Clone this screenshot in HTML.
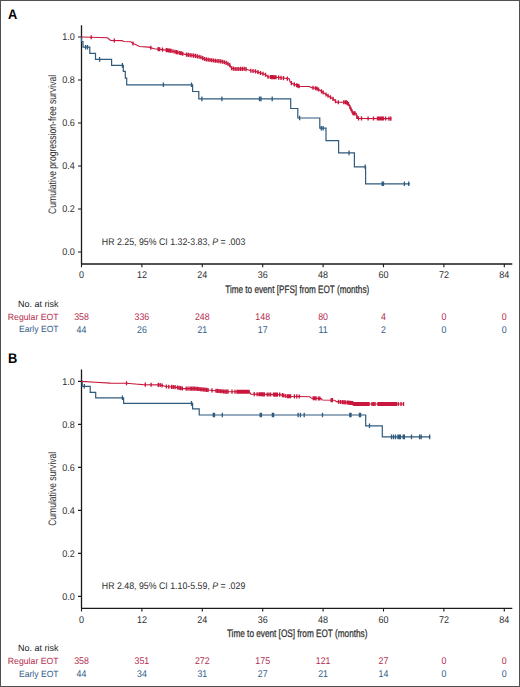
<!DOCTYPE html>
<html><head><meta charset="utf-8"><style>
html,body{margin:0;padding:0;background:#fff;}
svg{display:block;}
text{font-family:"Liberation Sans",sans-serif;text-rendering:geometricPrecision;}
</style></head><body>
<svg width="520" height="687" viewBox="0 0 520 687">
<rect x="0" y="0" width="520" height="687" fill="#fff"/>
<rect x="0.5" y="0.5" width="519" height="686" fill="none" stroke="#505050" stroke-width="1"/>
<text x="8.0" y="18.50" font-size="14" font-weight="bold" fill="#000" textLength="9.3" lengthAdjust="spacingAndGlyphs">A</text>
<path d="M81.5 25.20V264.00M81 264.00H512.3" stroke="#1a1a1a" stroke-width="1.3" fill="none"/>
<path d="M78 37.00H81.5M78 80.00H81.5M78 123.00H81.5M78 166.00H81.5M78 209.00H81.5M78 252.00H81.5" stroke="#1a1a1a" stroke-width="1.1" fill="none"/>
<path d="M81.50 264.00V267.20M141.90 264.00V267.20M202.30 264.00V267.20M262.70 264.00V267.20M323.10 264.00V267.20M383.50 264.00V267.20M443.90 264.00V267.20M504.30 264.00V267.20" stroke="#1a1a1a" stroke-width="1.1" fill="none"/>
<text x="74.8" y="40.25" font-size="9.8" text-anchor="end" fill="#2e2e2e" textLength="12.6" lengthAdjust="spacingAndGlyphs">1.0</text>
<text x="74.8" y="83.25" font-size="9.8" text-anchor="end" fill="#2e2e2e" textLength="12.6" lengthAdjust="spacingAndGlyphs">0.8</text>
<text x="74.8" y="126.25" font-size="9.8" text-anchor="end" fill="#2e2e2e" textLength="12.6" lengthAdjust="spacingAndGlyphs">0.6</text>
<text x="74.8" y="169.25" font-size="9.8" text-anchor="end" fill="#2e2e2e" textLength="12.6" lengthAdjust="spacingAndGlyphs">0.4</text>
<text x="74.8" y="212.25" font-size="9.8" text-anchor="end" fill="#2e2e2e" textLength="12.6" lengthAdjust="spacingAndGlyphs">0.2</text>
<text x="74.8" y="255.25" font-size="9.8" text-anchor="end" fill="#2e2e2e" textLength="12.6" lengthAdjust="spacingAndGlyphs">0.0</text>
<text x="81.50" y="278.30" font-size="9.8" text-anchor="middle" fill="#2e2e2e" textLength="5.01" lengthAdjust="spacingAndGlyphs">0</text>
<text x="141.90" y="278.30" font-size="9.8" text-anchor="middle" fill="#2e2e2e" textLength="10.03" lengthAdjust="spacingAndGlyphs">12</text>
<text x="202.30" y="278.30" font-size="9.8" text-anchor="middle" fill="#2e2e2e" textLength="10.03" lengthAdjust="spacingAndGlyphs">24</text>
<text x="262.70" y="278.30" font-size="9.8" text-anchor="middle" fill="#2e2e2e" textLength="10.03" lengthAdjust="spacingAndGlyphs">36</text>
<text x="323.10" y="278.30" font-size="9.8" text-anchor="middle" fill="#2e2e2e" textLength="10.03" lengthAdjust="spacingAndGlyphs">48</text>
<text x="383.50" y="278.30" font-size="9.8" text-anchor="middle" fill="#2e2e2e" textLength="10.03" lengthAdjust="spacingAndGlyphs">60</text>
<text x="443.90" y="278.30" font-size="9.8" text-anchor="middle" fill="#2e2e2e" textLength="10.03" lengthAdjust="spacingAndGlyphs">72</text>
<text x="504.30" y="278.30" font-size="9.8" text-anchor="middle" fill="#2e2e2e" textLength="10.03" lengthAdjust="spacingAndGlyphs">84</text>
<text x="225.2" y="292.80" font-size="10.8" fill="#2e2e2e" stroke="#2e2e2e" stroke-width="0.25" textLength="144" lengthAdjust="spacingAndGlyphs">Time to event [PFS] from EOT (months)</text>
<text transform="translate(56.3 144.40) rotate(-90)" x="0" y="0" font-size="10.8" text-anchor="middle" fill="#2e2e2e" textLength="139" lengthAdjust="spacingAndGlyphs">Cumulative  progression-free survival</text>
<text x="101.8" y="244.80" font-size="9.6" fill="#2e2e2e" textLength="143.5" lengthAdjust="spacingAndGlyphs">HR 2.25, 95% CI 1.32-3.83, <tspan font-style="italic">P</tspan> = .003</text>
<text x="58.6" y="307.00" font-size="9" text-anchor="end" fill="#222">No. at risk</text>
<text x="58.6" y="319.70" font-size="9" text-anchor="end" fill="#b42c4e" textLength="50.8" lengthAdjust="spacingAndGlyphs">Regular EOT</text>
<text x="58.6" y="332.40" font-size="9" text-anchor="end" fill="#325d88" textLength="39.6" lengthAdjust="spacingAndGlyphs">Early EOT</text>
<text x="81.50" y="319.80" font-size="9.8" text-anchor="middle" fill="#b42c4e" textLength="14.71" lengthAdjust="spacingAndGlyphs">358</text>
<text x="141.90" y="319.80" font-size="9.8" text-anchor="middle" fill="#b42c4e" textLength="14.71" lengthAdjust="spacingAndGlyphs">336</text>
<text x="202.30" y="319.80" font-size="9.8" text-anchor="middle" fill="#b42c4e" textLength="14.71" lengthAdjust="spacingAndGlyphs">248</text>
<text x="262.70" y="319.80" font-size="9.8" text-anchor="middle" fill="#b42c4e" textLength="14.71" lengthAdjust="spacingAndGlyphs">148</text>
<text x="323.10" y="319.80" font-size="9.8" text-anchor="middle" fill="#b42c4e" textLength="9.81" lengthAdjust="spacingAndGlyphs">80</text>
<text x="383.50" y="319.80" font-size="9.8" text-anchor="middle" fill="#b42c4e" textLength="4.90" lengthAdjust="spacingAndGlyphs">4</text>
<text x="443.90" y="319.80" font-size="9.8" text-anchor="middle" fill="#b42c4e" textLength="4.90" lengthAdjust="spacingAndGlyphs">0</text>
<text x="504.30" y="319.80" font-size="9.8" text-anchor="middle" fill="#b42c4e" textLength="4.90" lengthAdjust="spacingAndGlyphs">0</text>
<text x="81.50" y="332.50" font-size="9.8" text-anchor="middle" fill="#325d88" textLength="9.81" lengthAdjust="spacingAndGlyphs">44</text>
<text x="141.90" y="332.50" font-size="9.8" text-anchor="middle" fill="#325d88" textLength="9.81" lengthAdjust="spacingAndGlyphs">26</text>
<text x="202.30" y="332.50" font-size="9.8" text-anchor="middle" fill="#325d88" textLength="9.81" lengthAdjust="spacingAndGlyphs">21</text>
<text x="262.70" y="332.50" font-size="9.8" text-anchor="middle" fill="#325d88" textLength="9.81" lengthAdjust="spacingAndGlyphs">17</text>
<text x="323.10" y="332.50" font-size="9.8" text-anchor="middle" fill="#325d88" textLength="9.15" lengthAdjust="spacingAndGlyphs">11</text>
<text x="383.50" y="332.50" font-size="9.8" text-anchor="middle" fill="#325d88" textLength="4.90" lengthAdjust="spacingAndGlyphs">2</text>
<text x="443.90" y="332.50" font-size="9.8" text-anchor="middle" fill="#325d88" textLength="4.90" lengthAdjust="spacingAndGlyphs">0</text>
<text x="504.30" y="332.50" font-size="9.8" text-anchor="middle" fill="#325d88" textLength="4.90" lengthAdjust="spacingAndGlyphs">0</text>
<polyline points="81.50,37.00 81.50,41.50 83.00,41.50 83.00,47.20 89.80,47.20 89.80,53.30 95.50,53.30 95.50,59.40 111.60,59.40 111.60,65.40 123.30,65.40 123.30,71.30 125.30,71.30 125.30,78.20 126.70,78.20 126.70,84.80 192.60,84.80 192.60,91.50 198.80,91.50 198.80,98.90 290.70,98.90 290.70,108.50 297.80,108.50 297.80,118.00 319.80,118.00 319.80,128.20 326.00,128.20 326.00,140.60 338.60,140.60 338.60,152.90 354.40,152.90 354.40,166.80 365.60,166.80 365.60,183.80 410.00,183.80" fill="none" stroke="#2e5b7e" stroke-width="1.2" stroke-linejoin="miter"/>
<path d="M85.60 44.90v4.6M87.50 44.90v4.6M99.60 57.10v4.6M122.40 63.10v4.6M163.40 82.50v4.6M191.50 82.50v4.6M201.90 96.60v4.6M221.90 96.60v4.6M259.50 96.60v4.6M261.00 96.60v4.6M272.20 96.60v4.6M299.60 115.70v4.6M321.30 125.90v4.6M323.10 125.90v4.6M349.00 150.60v4.6M365.20 164.50v4.6M382.20 181.50v4.6M383.50 181.50v4.6M404.40 181.50v4.6M408.70 181.50v4.6" stroke="#2e5b7e" stroke-width="1.3" fill="none"/>
<polyline points="81.50,37.00 91.00,37.30 107.50,37.80 110.60,40.40 122.00,40.60 123.80,41.50 130.70,41.80 133.00,43.50 135.00,44.20 139.60,46.50 148.80,47.10 154.30,48.70 158.00,49.10 170.00,50.60 180.00,53.00 186.00,54.60 195.00,55.80 200.80,57.20 204.60,59.10 214.20,60.60 221.90,61.50 226.70,63.00 230.10,65.40 231.50,68.30 235.40,69.00 245.00,68.80 250.80,70.70 254.60,71.10 259.40,72.60 265.20,74.50 268.10,76.90 276.00,77.30 289.20,78.80 290.20,82.20 292.10,83.60 295.00,84.60 299.60,86.50 309.20,86.50 311.60,87.60 316.90,88.40 321.70,91.50 326.50,94.80 331.30,97.70 334.60,99.90 336.20,102.20 346.20,102.20 349.20,104.50 350.00,107.20 351.50,110.30 353.10,113.40 356.20,113.40 357.30,118.40 391.30,118.60" fill="none" stroke="#c8163c" stroke-width="1.15" stroke-linejoin="miter"/>
<path d="M91.20 35.26v4.1M114.30 38.41v4.1M133.00 41.45v4.1M150.80 45.63v4.1M158.20 47.08v4.1M159.60 47.25v4.1M162.50 47.61v4.1M166.30 48.09v4.1M167.50 48.24v4.1M168.60 48.38v4.1M169.70 48.51v4.1M171.00 48.79v4.1M173.00 49.27v4.1M175.00 49.75v4.1M176.50 50.11v4.1M177.90 50.45v4.1M179.80 50.90v4.1M181.20 51.27v4.1M182.70 51.67v4.1M186.50 52.62v4.1M188.30 52.86v4.1M190.11 53.10v4.1M191.91 53.34v4.1M193.71 53.58v4.1M195.52 53.87v4.1M197.32 54.31v4.1M199.12 54.74v4.1M200.92 55.21v4.1M202.73 56.11v4.1M204.53 57.02v4.1M206.33 57.32v4.1M208.14 57.60v4.1M209.94 57.88v4.1M211.74 58.17v4.1M213.55 58.45v4.1M215.35 58.68v4.1M217.15 58.89v4.1M218.95 59.11v4.1M220.76 59.32v4.1M222.56 59.66v4.1M224.36 60.22v4.1M226.17 60.78v4.1M227.97 61.85v4.1M229.77 63.12v4.1M231.58 66.26v4.1M233.38 66.59v4.1M235.18 66.91v4.1M236.98 66.92v4.1M238.79 66.88v4.1M240.59 66.84v4.1M242.39 66.80v4.1M244.20 66.77v4.1M246.00 67.08v4.1M250.80 68.65v4.1M253.00 68.88v4.1M255.50 69.33v4.1M258.00 70.11v4.1M260.50 70.91v4.1M263.00 71.73v4.1M265.50 72.70v4.1M268.00 74.77v4.1M270.50 74.97v4.1M271.60 75.03v4.1M272.70 75.08v4.1M273.80 75.14v4.1M274.90 75.19v4.1M276.00 75.25v4.1M278.70 75.56v4.1M281.00 75.82v4.1M283.50 76.10v4.1M287.30 76.53v4.1M291.40 81.03v4.1M294.30 82.31v4.1M296.70 83.25v4.1M297.90 83.75v4.1M299.10 84.24v4.1M313.00 85.76v4.1M315.50 86.14v4.1M317.00 86.41v4.1M318.50 87.38v4.1M321.50 89.32v4.1M323.20 90.48v4.1M326.00 92.41v4.1M328.00 93.66v4.1M330.50 95.17v4.1M333.00 96.78v4.1M335.50 99.14v4.1M338.30 100.15v4.1M343.80 100.15v4.1M345.40 100.15v4.1M346.40 100.30v4.1M347.40 101.07v4.1M348.50 101.91v4.1M350.00 105.15v4.1M351.00 107.22v4.1M352.00 109.22v4.1M353.00 111.16v4.1M354.00 111.35v4.1M355.00 111.35v4.1M357.00 114.99v4.1M358.50 116.36v4.1M361.50 116.37v4.1M368.10 116.41v4.1M373.50 116.45v4.1M377.50 116.47v4.1M378.50 116.47v4.1M379.50 116.48v4.1M380.50 116.49v4.1M381.50 116.49v4.1M382.50 116.50v4.1M383.30 116.50v4.1M385.60 116.52v4.1M389.00 116.54v4.1M390.80 116.55v4.1" stroke="#c8163c" stroke-width="1.35" fill="none"/>
<text x="8.0" y="362.90" font-size="14" font-weight="bold" fill="#000" textLength="9.3" lengthAdjust="spacingAndGlyphs">B</text>
<path d="M81.5 369.60V608.40M81 608.40H512.3" stroke="#1a1a1a" stroke-width="1.3" fill="none"/>
<path d="M78 381.40H81.5M78 424.40H81.5M78 467.40H81.5M78 510.40H81.5M78 553.40H81.5M78 596.40H81.5" stroke="#1a1a1a" stroke-width="1.1" fill="none"/>
<path d="M81.50 608.40V611.60M141.90 608.40V611.60M202.30 608.40V611.60M262.70 608.40V611.60M323.10 608.40V611.60M383.50 608.40V611.60M443.90 608.40V611.60M504.30 608.40V611.60" stroke="#1a1a1a" stroke-width="1.1" fill="none"/>
<text x="74.8" y="384.65" font-size="9.8" text-anchor="end" fill="#2e2e2e" textLength="12.6" lengthAdjust="spacingAndGlyphs">1.0</text>
<text x="74.8" y="427.65" font-size="9.8" text-anchor="end" fill="#2e2e2e" textLength="12.6" lengthAdjust="spacingAndGlyphs">0.8</text>
<text x="74.8" y="470.65" font-size="9.8" text-anchor="end" fill="#2e2e2e" textLength="12.6" lengthAdjust="spacingAndGlyphs">0.6</text>
<text x="74.8" y="513.65" font-size="9.8" text-anchor="end" fill="#2e2e2e" textLength="12.6" lengthAdjust="spacingAndGlyphs">0.4</text>
<text x="74.8" y="556.65" font-size="9.8" text-anchor="end" fill="#2e2e2e" textLength="12.6" lengthAdjust="spacingAndGlyphs">0.2</text>
<text x="74.8" y="599.65" font-size="9.8" text-anchor="end" fill="#2e2e2e" textLength="12.6" lengthAdjust="spacingAndGlyphs">0.0</text>
<text x="81.50" y="622.70" font-size="9.8" text-anchor="middle" fill="#2e2e2e" textLength="5.01" lengthAdjust="spacingAndGlyphs">0</text>
<text x="141.90" y="622.70" font-size="9.8" text-anchor="middle" fill="#2e2e2e" textLength="10.03" lengthAdjust="spacingAndGlyphs">12</text>
<text x="202.30" y="622.70" font-size="9.8" text-anchor="middle" fill="#2e2e2e" textLength="10.03" lengthAdjust="spacingAndGlyphs">24</text>
<text x="262.70" y="622.70" font-size="9.8" text-anchor="middle" fill="#2e2e2e" textLength="10.03" lengthAdjust="spacingAndGlyphs">36</text>
<text x="323.10" y="622.70" font-size="9.8" text-anchor="middle" fill="#2e2e2e" textLength="10.03" lengthAdjust="spacingAndGlyphs">48</text>
<text x="383.50" y="622.70" font-size="9.8" text-anchor="middle" fill="#2e2e2e" textLength="10.03" lengthAdjust="spacingAndGlyphs">60</text>
<text x="443.90" y="622.70" font-size="9.8" text-anchor="middle" fill="#2e2e2e" textLength="10.03" lengthAdjust="spacingAndGlyphs">72</text>
<text x="504.30" y="622.70" font-size="9.8" text-anchor="middle" fill="#2e2e2e" textLength="10.03" lengthAdjust="spacingAndGlyphs">84</text>
<text x="226.9" y="637.20" font-size="10.8" fill="#2e2e2e" stroke="#2e2e2e" stroke-width="0.25" textLength="140.5" lengthAdjust="spacingAndGlyphs">Time to event [OS] from EOT (months)</text>
<text transform="translate(56.3 488.80) rotate(-90)" x="0" y="0" font-size="10.8" text-anchor="middle" fill="#2e2e2e" textLength="74" lengthAdjust="spacingAndGlyphs">Cumulative survival</text>
<text x="101.8" y="589.20" font-size="9.6" fill="#2e2e2e" textLength="143.5" lengthAdjust="spacingAndGlyphs">HR 2.48, 95% CI 1.10-5.59, <tspan font-style="italic">P</tspan> = .029</text>
<text x="58.6" y="651.40" font-size="9" text-anchor="end" fill="#222">No. at risk</text>
<text x="58.6" y="664.10" font-size="9" text-anchor="end" fill="#b42c4e" textLength="50.8" lengthAdjust="spacingAndGlyphs">Regular EOT</text>
<text x="58.6" y="676.80" font-size="9" text-anchor="end" fill="#325d88" textLength="39.6" lengthAdjust="spacingAndGlyphs">Early EOT</text>
<text x="81.50" y="664.20" font-size="9.8" text-anchor="middle" fill="#b42c4e" textLength="14.71" lengthAdjust="spacingAndGlyphs">358</text>
<text x="141.90" y="664.20" font-size="9.8" text-anchor="middle" fill="#b42c4e" textLength="14.71" lengthAdjust="spacingAndGlyphs">351</text>
<text x="202.30" y="664.20" font-size="9.8" text-anchor="middle" fill="#b42c4e" textLength="14.71" lengthAdjust="spacingAndGlyphs">272</text>
<text x="262.70" y="664.20" font-size="9.8" text-anchor="middle" fill="#b42c4e" textLength="14.71" lengthAdjust="spacingAndGlyphs">175</text>
<text x="323.10" y="664.20" font-size="9.8" text-anchor="middle" fill="#b42c4e" textLength="14.71" lengthAdjust="spacingAndGlyphs">121</text>
<text x="383.50" y="664.20" font-size="9.8" text-anchor="middle" fill="#b42c4e" textLength="9.81" lengthAdjust="spacingAndGlyphs">27</text>
<text x="443.90" y="664.20" font-size="9.8" text-anchor="middle" fill="#b42c4e" textLength="4.90" lengthAdjust="spacingAndGlyphs">0</text>
<text x="504.30" y="664.20" font-size="9.8" text-anchor="middle" fill="#b42c4e" textLength="4.90" lengthAdjust="spacingAndGlyphs">0</text>
<text x="81.50" y="676.90" font-size="9.8" text-anchor="middle" fill="#325d88" textLength="9.81" lengthAdjust="spacingAndGlyphs">44</text>
<text x="141.90" y="676.90" font-size="9.8" text-anchor="middle" fill="#325d88" textLength="9.81" lengthAdjust="spacingAndGlyphs">34</text>
<text x="202.30" y="676.90" font-size="9.8" text-anchor="middle" fill="#325d88" textLength="9.81" lengthAdjust="spacingAndGlyphs">31</text>
<text x="262.70" y="676.90" font-size="9.8" text-anchor="middle" fill="#325d88" textLength="9.81" lengthAdjust="spacingAndGlyphs">27</text>
<text x="323.10" y="676.90" font-size="9.8" text-anchor="middle" fill="#325d88" textLength="9.81" lengthAdjust="spacingAndGlyphs">21</text>
<text x="383.50" y="676.90" font-size="9.8" text-anchor="middle" fill="#325d88" textLength="9.81" lengthAdjust="spacingAndGlyphs">14</text>
<text x="443.90" y="676.90" font-size="9.8" text-anchor="middle" fill="#325d88" textLength="4.90" lengthAdjust="spacingAndGlyphs">0</text>
<text x="504.30" y="676.90" font-size="9.8" text-anchor="middle" fill="#325d88" textLength="4.90" lengthAdjust="spacingAndGlyphs">0</text>
<polyline points="81.50,381.40 82.20,381.40 82.20,386.30 90.20,386.30 90.20,392.30 95.70,392.30 95.70,397.80 123.60,397.80 123.60,403.40 192.60,403.40 192.60,408.80 199.20,408.80 199.20,415.00 365.70,415.00 365.70,425.80 382.30,425.80 382.30,436.90 430.40,436.90" fill="none" stroke="#2e5b7e" stroke-width="1.2" stroke-linejoin="miter"/>
<path d="M84.30 384.00v4.6M122.40 395.50v4.6M191.50 401.10v4.6M213.30 412.70v4.6M214.50 412.70v4.6M222.30 412.70v4.6M260.20 412.70v4.6M261.40 412.70v4.6M272.40 412.70v4.6M273.60 412.70v4.6M298.10 412.70v4.6M300.40 412.70v4.6M304.20 412.70v4.6M322.50 412.70v4.6M349.80 412.70v4.6M351.00 412.70v4.6M359.40 412.70v4.6M360.60 412.70v4.6M369.50 423.50v4.6M391.50 434.60v4.6M393.50 434.60v4.6M395.50 434.60v4.6M398.00 434.60v4.6M399.20 434.60v4.6M400.40 434.60v4.6M403.20 434.60v4.6M404.40 434.60v4.6M411.50 434.60v4.6M419.60 434.60v4.6M421.20 434.60v4.6M429.60 434.60v4.6" stroke="#2e5b7e" stroke-width="1.3" fill="none"/>
<polyline points="81.50,381.40 95.30,382.20 110.30,383.10 126.40,383.30 138.00,384.20 143.00,384.60 160.00,384.90 166.00,386.50 175.00,387.10 183.00,388.60 195.00,388.60 210.00,390.20 225.00,391.60 235.00,391.70 249.40,391.70 250.90,394.10 275.00,394.60 280.00,394.60 286.70,396.20 309.80,396.70 311.30,398.10 321.30,398.60 322.30,400.00 334.60,400.20 336.50,401.60 352.90,403.10 353.80,404.00 404.00,404.00" fill="none" stroke="#c8163c" stroke-width="1.15" stroke-linejoin="miter"/>
<path d="M126.50 381.26v4.1M145.30 382.59v4.1M151.10 382.69v4.1M158.30 382.82v4.1M160.20 382.90v4.1M162.10 383.41v4.1M166.40 384.48v4.1M168.80 384.64v4.1M171.70 384.83v4.1M173.40 384.94v4.1M175.10 385.07v4.1M177.50 385.52v4.1M179.10 385.82v4.1M180.70 386.12v4.1M182.30 386.42v4.1M186.20 386.55v4.1M188.00 386.55v4.1M190.00 386.55v4.1M190.00 386.55v4.1M191.50 386.55v4.1M193.00 386.55v4.1M194.50 386.55v4.1M196.00 386.66v4.1M197.50 386.82v4.1M199.00 386.98v4.1M200.50 387.14v4.1M202.00 387.30v4.1M203.50 387.46v4.1M205.00 387.62v4.1M206.50 387.78v4.1M208.00 387.94v4.1M212.00 388.34v4.1M216.00 388.71v4.1M217.50 388.85v4.1M219.00 388.99v4.1M220.50 389.13v4.1M222.00 389.27v4.1M223.50 389.41v4.1M225.00 389.55v4.1M226.50 389.56v4.1M228.00 389.58v4.1M232.00 389.62v4.1M235.00 389.65v4.1M237.00 389.65v4.1M237.00 389.65v4.1M238.33 389.65v4.1M239.67 389.65v4.1M241.00 389.65v4.1M242.33 389.65v4.1M243.67 389.65v4.1M245.00 389.65v4.1M246.33 389.65v4.1M247.67 389.65v4.1M249.00 389.65v4.1M254.20 392.12v4.1M257.10 392.18v4.1M259.00 392.22v4.1M260.30 392.25v4.1M261.60 392.27v4.1M262.90 392.30v4.1M264.30 392.33v4.1M267.20 392.39v4.1M268.90 392.42v4.1M270.60 392.46v4.1M273.50 392.52v4.1M274.80 392.55v4.1M276.00 392.55v4.1M277.30 392.55v4.1M279.70 392.55v4.1M282.40 393.12v4.1M283.80 393.46v4.1M285.80 393.94v4.1M287.70 394.17v4.1M288.70 394.19v4.1M289.70 394.21v4.1M290.60 394.23v4.1M294.40 394.32v4.1M296.80 394.37v4.1M299.20 394.42v4.1M313.20 396.15v4.1M314.60 396.22v4.1M316.00 396.29v4.1M318.50 396.41v4.1M319.90 396.48v4.1M331.20 398.09v4.1M332.40 398.11v4.1M338.50 399.73v4.1M340.40 399.91v4.1M342.30 400.08v4.1M343.80 400.22v4.1M345.20 400.35v4.1M347.10 400.52v4.1M348.22 400.62v4.1M349.33 400.72v4.1M350.45 400.83v4.1M351.57 400.93v4.1M352.68 401.03v4.1M353.80 401.95v4.1M355.00 401.95v4.1M356.27 401.95v4.1M357.55 401.95v4.1M358.82 401.95v4.1M360.09 401.95v4.1M361.36 401.95v4.1M362.64 401.95v4.1M363.91 401.95v4.1M365.18 401.95v4.1M366.45 401.95v4.1M367.73 401.95v4.1M369.00 401.95v4.1M372.00 401.95v4.1M373.50 401.95v4.1M375.00 401.95v4.1M378.00 401.95v4.1M379.31 401.95v4.1M380.62 401.95v4.1M381.92 401.95v4.1M383.23 401.95v4.1M384.54 401.95v4.1M385.85 401.95v4.1M387.15 401.95v4.1M388.46 401.95v4.1M389.77 401.95v4.1M391.08 401.95v4.1M392.38 401.95v4.1M393.69 401.95v4.1M395.00 401.95v4.1M396.30 401.95v4.1M398.20 401.95v4.1M401.00 401.95v4.1M403.50 401.95v4.1" stroke="#c8163c" stroke-width="1.35" fill="none"/>
</svg>
</body></html>
